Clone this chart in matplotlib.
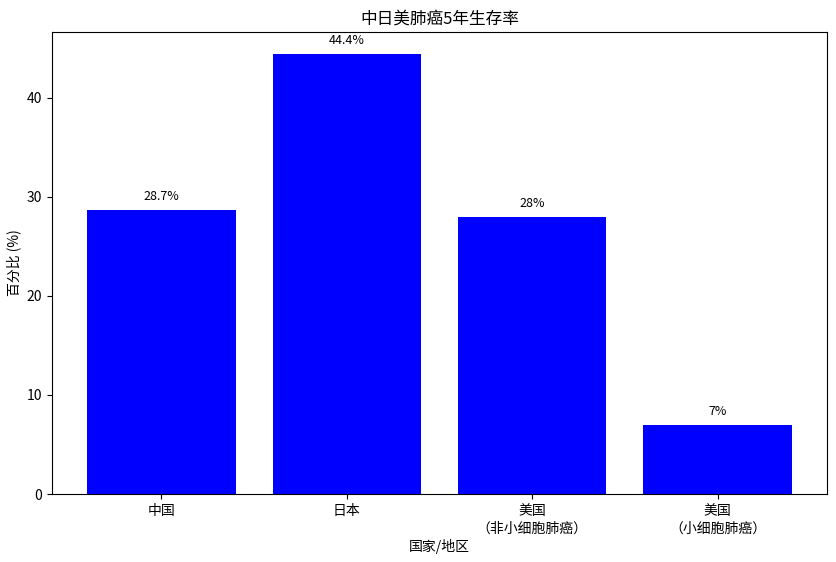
import matplotlib
matplotlib.use("Agg")
import matplotlib.pyplot as plt

plt.rcParams['font.family'] = ['Noto Sans CJK SC', 'DejaVu Sans']
plt.rcParams['axes.unicode_minus'] = False

categories = ['中国', '日本', '美国\n（非小细胞肺癌）', '美国\n（小细胞肺癌）']
values = [28.7, 44.4, 28, 7]
labels = ['28.7%', '44.4%', '28%', '7%']

fig = plt.figure(figsize=(8.37, 5.62), dpi=100)
ax = fig.add_axes([52/837, 68/562, 775/837, 462/562])
bars = ax.bar(categories, values, color='blue')
for b, lab in zip(bars, labels):
    ax.annotate(lab, (b.get_x() + b.get_width()/2, b.get_height()),
                xytext=(0, 5), textcoords='offset points',
                ha='center', va='bottom', fontsize=9)
ax.set_title('中日美肺癌5年生存率', fontsize=12)
ax.set_xlabel('国家/地区', fontsize=10, labelpad=2)
ax.set_ylabel('百分比 (%)', fontsize=10)
ax.tick_params(labelsize=10)
for t in ax.get_xticklabels():
    t.set_linespacing(1.4)
fig.savefig('out.png', dpi=100)
